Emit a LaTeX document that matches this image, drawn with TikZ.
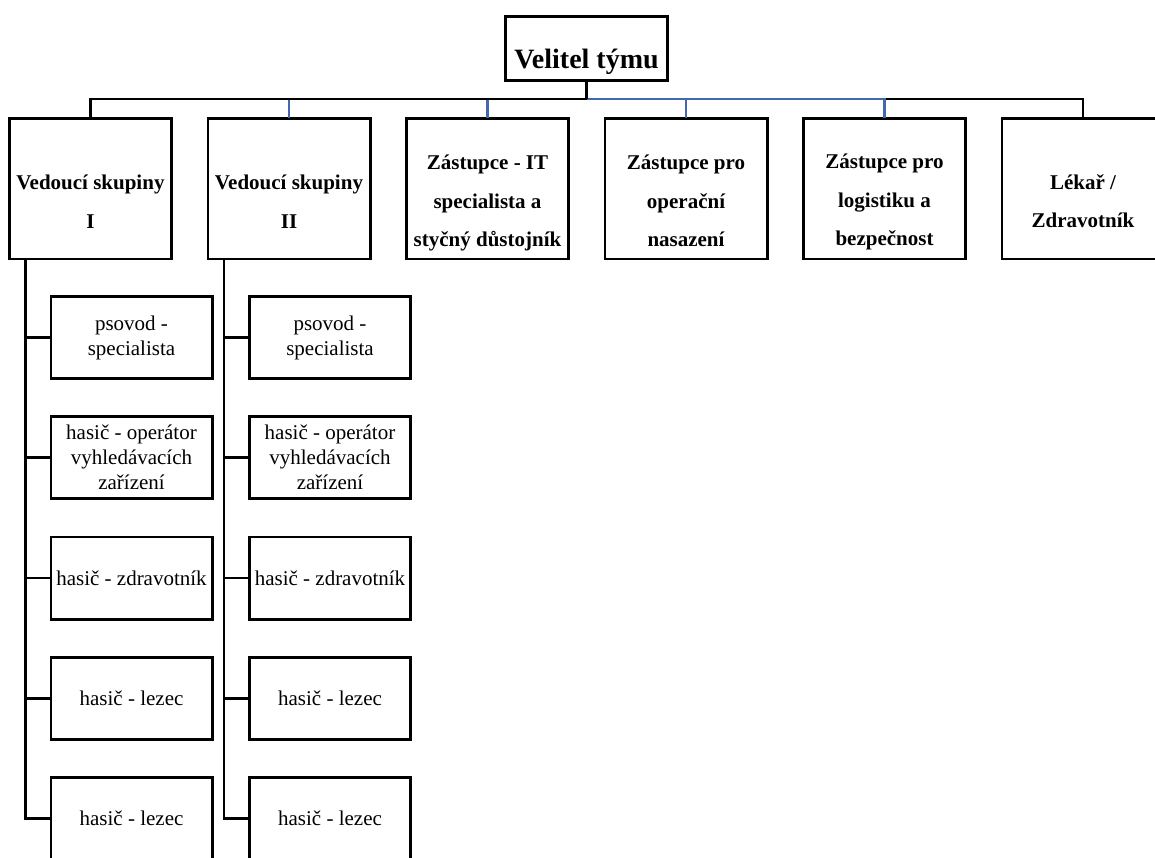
\documentclass[tikz,border=0pt]{standalone}
\usepackage{fontspec}
\setmainfont{Liberation Serif}
\usetikzlibrary{calc}
\definecolor{linkblue}{RGB}{68,104,176}

\begin{document}
\begin{tikzpicture}[x=1pt,y=-1pt,
  box/.style={draw=black, line width=2.8pt, fill=white, inner sep=0pt, outer sep=0pt},
  chief/.style={box, minimum width=162.2pt, minimum height=64.2pt},
  head/.style={box, minimum width=162.2pt, minimum height=140.6pt},
  headtext/.style={align=center, inner sep=0pt, font=\fontsize{21}{38.5}\selectfont\bfseries},
  member/.style={box, minimum width=161.2pt, minimum height=82.2pt, align=center,
                 font=\fontsize{21}{25}\selectfont},
  link/.style={draw=black, line width=2.8pt},
  bluelink/.style={draw=linkblue, line width=2.2pt},
]
\useasboundingbox (0,0) rectangle (1155,857);

% team leader
\node[chief] (vt) at (586.5,48.5) {};
\node[anchor=base, inner sep=0pt, font=\fontsize{28}{30}\selectfont\bfseries] (vtt) at (586.5,68) {Velitel týmu};

% second level
\node[head] (g1) at (90.5,188.75) {};
\node[head] (g2) at (289,188.75) {};
\node[head] (g3) at (487.5,188.75) {};
\node[head] (g4) at (686,188.75) {};
\node[head] (g5) at (884.5,188.75) {};
\node[head] (g6) at (1083,188.75) {};

\node[headtext] (g1t) at (90.5,201.5) {Vedoucí skupiny\\I};
\node[headtext] (g2t) at (289,201.5) {Vedoucí skupiny\\II};
\node[headtext] (g3t) at (487.5,203) {Zástupce - IT\\specialista a\\styčný důstojník};
\node[headtext] (g4t) at (686,201) {Zástupce pro\\operační\\nasazení};
\node[headtext] (g5t) at (884.5,202) {Zástupce pro\\logistiku a\\bezpečnost};
\node[headtext] (g6t) at (1083,201) {Lékař /\\Zdravotník};

% connectors from the leader
\coordinate (hub) at (586.5,99);
\draw[link] (hub) -| (g6.north);
\draw[bluelink] (hub) -| (g2.north);
\draw[bluelink] (hub) -| (g3.north);
\draw[bluelink] (hub) -| (g4.north);
\draw[bluelink] (hub) -| (g5.north);
\draw[link] (hub) -| (g1.north);
\draw[link] (vt.south) -- (hub);

% group members, first group
\node[member] (a1) at (131.5,337.5) {psovod -\\specialista};
\node[member] (a2) at (131.5,457.75) {hasič - operátor\\vyhledávacích\\zařízení};
\node[member] (a3) at (131.5,578) {hasič - zdravotník};
\node[member] (a4) at (131.5,698.25) {hasič - lezec};
\node[member] (a5) at (131.5,818.5) {hasič - lezec};

% group members, second group
\node[member] (b1) at (330,337.5) {psovod -\\specialista};
\node[member] (b2) at (330,457.75) {hasič - operátor\\vyhledávacích\\zařízení};
\node[member] (b3) at (330,578) {hasič - zdravotník};
\node[member] (b4) at (330,698.25) {hasič - lezec};
\node[member] (b5) at (330,818.5) {hasič - lezec};

% spines
\coordinate (s1) at ($(g1.south west)+(15.8,0)$);
\coordinate (s2) at ($(g2.south west)+(16,0)$);
\draw[link] (s1) |- (a5.west);
\foreach \m in {a1,a2,a3,a4} \draw[link] (s1 |- \m.west) -- (\m.west);
\draw[link] (s2) |- (b5.west);
\foreach \m in {b1,b2,b3,b4} \draw[link] (s2 |- \m.west) -- (\m.west);
\end{tikzpicture}
\end{document}
